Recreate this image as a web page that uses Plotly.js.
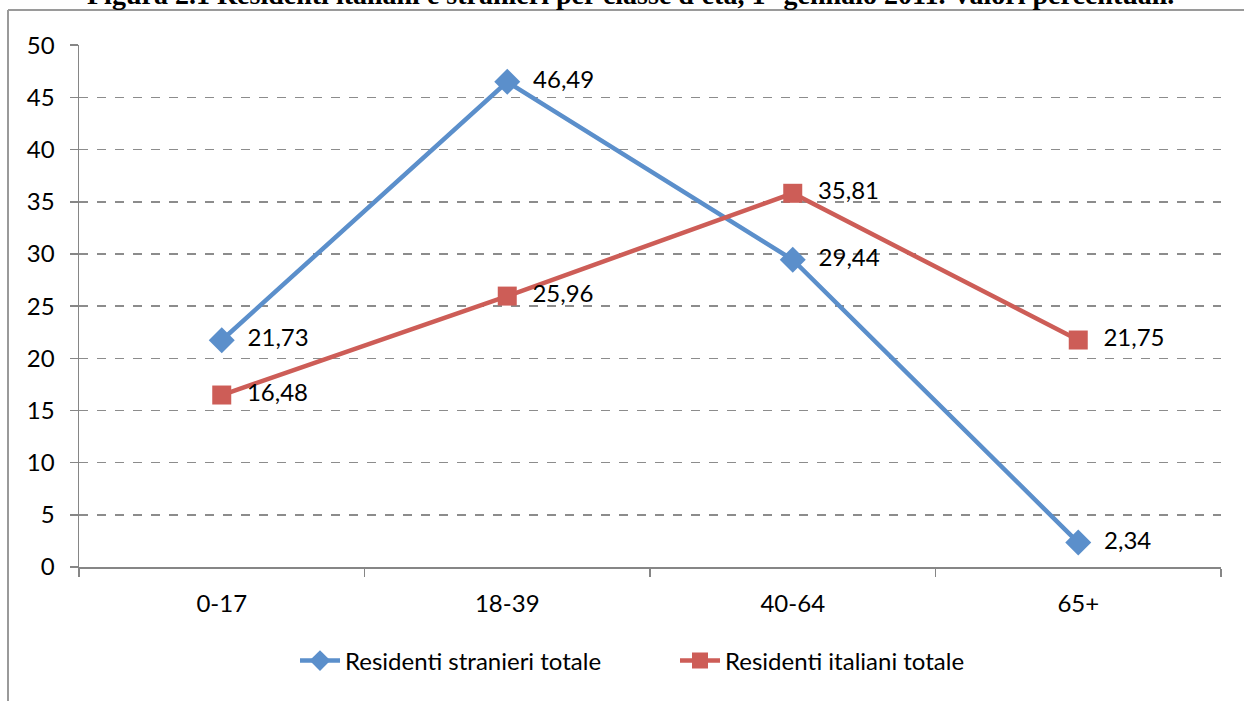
<!DOCTYPE html>
<html>
<head>
<meta charset="utf-8">
<script src="https://cdn.plot.ly/plotly-3.0.1.min.js"></script>
<style>html,body{margin:0;padding:0;background:#fff;}#chart{width:1244px;height:701px;}</style>
</head>
<body>
<div id="chart"></div>
<script>
var categories = ["0-17", "18-39", "40-64", "65+"];
var stranieri = [21.73, 46.49, 29.44, 2.34];
var italiani = [16.48, 25.96, 35.81, 21.75];
var stranieriLabel = "Residenti stranieri totale";
var italianiLabel = "Residenti italiani totale";
var titleText = "Figura 2.1 Residenti italiani e stranieri per classe d'età, 1° gennaio 2011. Valori percentuali.";
var yTicks = [0, 5, 10, 15, 20, 25, 30, 35, 40, 45, 50];

function fmt(v){ return '\u00a0\u00a0' + v.toFixed(2).replace('.', ','); }

var font = "Lato, 'Open Sans', sans-serif";
var fs = 24;

var traces = [
  {
    x: categories, y: stranieri, name: stranieriLabel, type: 'scatter', mode: 'lines+markers+text',
    line: {color: '#5B8FCB', width: 4.5},
    marker: {symbol: 'diamond', size: 20, color: '#5B8FCB'},
    text: stranieri.map(fmt), textposition: 'middle right',
    textfont: {family: font, size: fs, color: '#000'},
    cliponaxis: false
  },
  {
    x: categories, y: italiani, name: italianiLabel, type: 'scatter', mode: 'lines+markers+text',
    line: {color: '#CD5D57', width: 4.5},
    marker: {symbol: 'square', size: 19, color: '#CD5D57'},
    text: italiani.map(fmt), textposition: 'middle right',
    textfont: {family: font, size: fs, color: '#000'},
    cliponaxis: false
  }
];

var layout = {
  width: 1244, height: 701,
  margin: {l: 79, r: 23, t: 45, b: 134, autoexpand: false},
  paper_bgcolor: '#fff', plot_bgcolor: '#fff',
  font: {family: font, size: fs, color: '#000'},
  xaxis: {
    type: 'category', range: [-0.5, 3.5],
    showgrid: false, showline: true, linecolor: '#868686', linewidth: 1.5,
    ticks: 'outside', tickson: 'boundaries', ticklen: 8, tickcolor: '#868686', tickwidth: 1.5,
    tickfont: {family: font, size: fs}, ticklabelstandoff: 15,
    zeroline: false, fixedrange: true, automargin: false
  },
  yaxis: {
    range: [0, 50.02], tickvals: yTicks, ticktext: yTicks.map(String),
    showgrid: true, gridcolor: '#8C8C8C', griddash: 'dash', gridwidth: 1.5,
    showline: true, linecolor: '#868686', linewidth: 1.5,
    ticks: 'outside', ticklen: 8, tickcolor: '#868686', tickwidth: 1.5,
    tickfont: {family: font, size: fs}, ticklabelstandoff: 10,
    zeroline: false, fixedrange: true, automargin: false
  },
  showlegend: true,
  legend: {
    orientation: 'h', x: 295/1244, xanchor: 'left', xref: 'container',
    y: 1 - 661/701, yanchor: 'middle', yref: 'container',
    font: {family: font, size: fs}, tracegroupgap: 0,
    traceorder: 'normal', itemwidth: 40, entrywidth: 325
  },
  annotations: [
    {text: '<b>' + titleText + '</b>', xref: 'paper', yref: 'paper',
     x: (630-79)/1142, y: (567-12)/522, xanchor: 'center', yanchor: 'bottom', showarrow: false,
     font: {family: "'Liberation Serif', serif", size: 28, color: '#000'}}
  ],
  shapes: [
    {type: 'line', xref: 'paper', yref: 'paper', x0: (8-79)/1142, x1: (1260-79)/1142,
     y0: (567-10)/522, y1: (567-10)/522, line: {color: '#9A9A9A', width: 2}},
    {type: 'line', xref: 'paper', yref: 'paper', x0: (8-79)/1142, x1: (8-79)/1142,
     y0: (567-10)/522, y1: (567-720)/522, line: {color: '#9A9A9A', width: 2}}
  ]
};

Plotly.newPlot('chart', traces, layout, {displayModeBar: false, staticPlot: true});
</script>
</body>
</html>
